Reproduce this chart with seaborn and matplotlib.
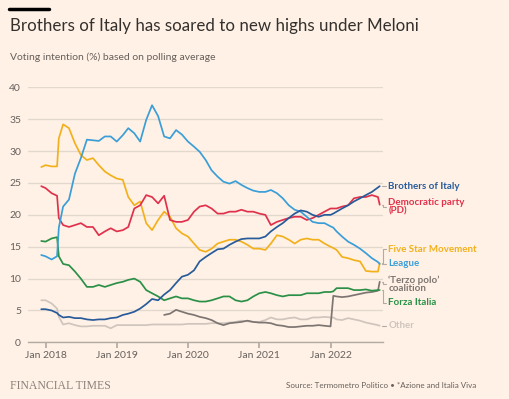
import pandas as pd
import matplotlib.pyplot as plt
import matplotlib.dates as mdates
import seaborn as sns

# Date grid: month starts plus a few extra points where polls jumped
dates = (["2017-12-10"]
         + ["2018-01-01", "2018-02-01", "2018-03-01", "2018-03-10"]
         + [f"2018-{m:02d}-01" for m in range(4, 13)]
         + [f"2019-{m:02d}-01" for m in range(1, 13)]
         + [f"2020-{m:02d}-01" for m in range(1, 13)]
         + [f"2021-{m:02d}-01" for m in range(1, 13)]
         + ["2022-01-01", "2022-01-15"]
         + [f"2022-{m:02d}-01" for m in range(2, 10)]
         + ["2022-09-10"])

nan = float("nan")

brothers = [5.2, 5.2, 5.0, 4.6, 4.3, 3.9, 4.0, 3.8, 3.8, 3.6, 3.5, 3.6, 3.6, 3.8,
            3.9, 4.3, 4.5, 4.8, 5.3, 6.0, 6.8, 6.6, 7.5, 8.2, 9.3, 10.3,
            10.6, 11.3, 12.7, 13.4, 14.0, 14.6, 14.7, 15.3, 15.8, 16.2, 16.3, 16.3,
            16.3, 16.6, 17.4, 18.1, 18.7, 19.5, 20.2, 20.7, 20.5, 20.0, 19.7, 20.0,
            20.0, 20.2, 20.5, 21.0, 21.5, 22.1, 22.6, 23.1, 23.6, 24.3, 24.5]

pd_party = [24.5, 24.2, 23.4, 23.0, 19.5, 18.4, 18.1, 18.4, 18.7, 18.1, 18.1, 16.8, 17.4, 17.9,
            17.4, 17.6, 18.1, 21.0, 21.5, 23.1, 22.8, 21.8, 23.0, 19.2, 18.9, 18.9,
            19.2, 20.5, 21.3, 21.5, 21.0, 20.2, 20.2, 20.5, 20.5, 20.8, 20.5, 20.5,
            20.2, 20.0, 18.4, 18.9, 19.2, 19.5, 19.7, 19.7, 19.2, 19.5, 20.0, 20.5,
            21.0, 21.0, 21.0, 21.3, 21.5, 22.6, 22.8, 22.8, 23.1, 22.8, 21.6]

five_star = [27.5, 27.8, 27.6, 27.6, 32.0, 34.2, 33.6, 31.2, 29.4, 28.6, 28.9, 27.8, 26.8, 26.2,
             25.7, 25.5, 22.8, 21.5, 22.1, 18.7, 17.6, 19.2, 20.5, 19.7, 17.9, 17.1,
             16.6, 15.5, 14.5, 14.2, 14.7, 15.5, 15.8, 16.1, 16.1, 15.8, 15.3, 14.7,
             14.7, 14.5, 15.5, 16.8, 16.6, 16.1, 15.5, 16.1, 16.3, 16.1, 16.1, 15.5,
             15.0, 14.8, 14.5, 13.4, 13.2, 12.9, 12.7, 11.2, 11.1, 11.1, 12.4]

league = [13.7, 13.5, 13.0, 13.5, 18.0, 21.3, 22.4, 26.5, 28.9, 31.8, 31.7, 31.6, 32.3, 32.3,
          31.5, 32.5, 33.6, 32.8, 31.5, 34.9, 37.2, 35.5, 32.3, 32.0, 33.3, 32.6,
          31.5, 30.7, 29.9, 28.6, 27.0, 26.0, 25.2, 24.9, 25.3, 24.7, 24.2, 23.8,
          23.6, 23.6, 23.9, 23.4, 22.6, 21.5, 20.8, 20.5, 19.7, 18.9, 18.7, 18.7,
          18.2, 18.0, 17.4, 16.6, 15.8, 15.3, 14.7, 14.0, 13.2, 12.6, 12.3]

terzo_polo = [nan] * 22 + [
          4.3, 4.5, 5.1, 4.8,
          4.5, 4.3, 4.0, 3.8, 3.5, 3.0, 2.7, 3.0, 3.1, 3.2, 3.4, 3.2,
          3.1, 3.1, 3.0, 2.7, 2.6, 2.4, 2.4, 2.5, 2.6, 2.6, 2.7, 2.6,
          2.5, 7.3, 7.2, 7.1, 7.2, 7.4, 7.6, 7.8, 7.9, 8.1, 9.5]

forza_italia = [15.9, 15.8, 16.3, 16.5, 13.5, 12.3, 12.1, 11.1, 10.0, 8.7, 8.7, 9.0, 8.7, 9.0,
                9.3, 9.5, 9.8, 10.0, 9.5, 8.2, 7.7, 7.2, 6.6, 6.9, 7.2, 6.9,
                6.9, 6.6, 6.4, 6.4, 6.6, 6.9, 7.2, 7.2, 6.6, 6.4, 6.6, 7.2,
                7.7, 7.9, 7.7, 7.4, 7.2, 7.4, 7.4, 7.4, 7.7, 7.7, 7.7, 7.9,
                7.9, 8.0, 8.5, 8.5, 8.5, 8.2, 8.2, 8.3, 8.1, 8.2, 8.2]

other = [6.6, 6.6, 6.1, 5.3, 4.0, 2.8, 3.0, 2.7, 2.5, 2.5, 2.6, 2.6, 2.6, 2.2,
         2.7, 2.7, 2.7, 2.7, 2.7, 2.7, 2.8, 2.8, 2.8, 2.8, 2.8, 2.8,
         2.9, 2.9, 2.9, 2.9, 3.0, 3.0, 3.0, 3.1, 3.2, 3.4, 3.3, 3.2,
         3.2, 3.5, 3.9, 3.6, 3.6, 3.8, 3.9, 3.6, 3.6, 3.9, 3.9, 4.0,
         3.9, 3.9, 3.6, 3.5, 3.8, 3.6, 3.4, 3.1, 2.9, 2.7, 2.6]

# party -> colour, drawing order bottom to top
colours = {
    "Other": "#cfc5bd",
    "Terzo polo": "#7d7572",
    "Forza Italia": "#2a9048",
    "Five Star Movement": "#f2b11c",
    "Democratic party": "#e0314c",
    "League": "#3a9ed8",
    "Brothers of Italy": "#275b9a",
}

df = pd.DataFrame({
    "date": pd.to_datetime(dates),
    "Other": other,
    "Terzo polo": terzo_polo,
    "Forza Italia": forza_italia,
    "Five Star Movement": five_star,
    "Democratic party": pd_party,
    "League": league,
    "Brothers of Italy": brothers,
})
long = df.melt(id_vars="date", var_name="party", value_name="share").dropna()

bg = "#fff1e5"
grey = "#66605c"
sns.set_theme(style="white")
plt.rcParams["font.family"] = ["Lato", "DejaVu Sans"]

fig = plt.figure(figsize=(5.09, 3.99), dpi=100, facecolor=bg)
ax = fig.add_axes([0.055, 0.142, 0.6975, 0.639], facecolor=bg)

sns.lineplot(data=long, x="date", y="share", hue="party", hue_order=list(colours),
             palette=colours, estimator=None, linewidth=1.25, legend=False, ax=ax)

ax.set_xlim(pd.Timestamp("2017-10-03"), pd.Timestamp("2022-09-27"))
ax.set_ylim(0, 40)
ax.set_yticks(range(0, 41, 5))
ax.grid(axis="y", color="#e3d8ce", linewidth=1)
ax.set_axisbelow(True)
for s in ["top", "right", "left"]:
    ax.spines[s].set_visible(False)
ax.spines["bottom"].set_color("#b3aaa2")
ax.spines["bottom"].set_linewidth(1)
ax.xaxis.set_major_locator(mdates.YearLocator())
ax.xaxis.set_major_formatter(mdates.DateFormatter("Jan %Y"))
ax.tick_params(axis="x", bottom=True, length=4, color="#b3aaa2", labelsize=7.5,
               labelcolor=grey, pad=2)
ax.tick_params(axis="y", left=False, length=0, labelsize=7.5, labelcolor=grey, pad=5)
ax.set_xlabel("")
ax.set_ylabel("")

# right-hand labels with small leader lines
end = pd.Timestamp("2022-09-10")
x0 = mdates.date2num(end) + 10
x1 = x0 + 20
xt = x1 + 14
labels = [
    ("Brothers of Italy", 24.5, 24.5, colours["Brothers of Italy"]),
    ("Democratic party\n(PD)", 21.6, 21.3, colours["Democratic party"]),
    ("Five Star Movement", 12.4, 14.6, colours["Five Star Movement"]),
    ("League", 12.3, 12.3, colours["League"]),
    ("‘Terzo polo’\ncoalition", 9.5, 9.1, colours["Terzo polo"]),
    ("Forza Italia", 8.2, 6.2, colours["Forza Italia"]),
    ("Other", 2.6, 2.6, "#cfc5bd"),
]
for text, y_end, y_lab, c in labels:
    ax.plot([x0, x0 + 6, x0 + 6, x1], [y_end, y_end, y_lab, y_lab], color="#b3aaa2",
            linewidth=0.8, clip_on=False)
    ax.text(xt, y_lab, text, color=c, fontsize=7, fontweight="bold", va="center",
            ha="left", linespacing=0.95, clip_on=False)

# header and footer
fig.add_artist(plt.Line2D([9 / 509, 49 / 509], [1 - 8.5 / 399] * 2, color="black",
                          linewidth=2.5))
fig.text(10 / 509, 1 - 26 / 399, "Brothers of Italy has soared to new highs under Meloni",
         fontsize=12.2, color="#33302e", va="center", ha="left")
fig.text(10 / 509, 1 - 57 / 399, "Voting intention (%) based on polling average",
         fontsize=7.5, color=grey, va="center", ha="left")
fig.text(10 / 509, 1 - 386 / 399, "FINANCIAL TIMES", family="Liberation Serif",
         fontsize=8.5, color="#8a817b", va="center", ha="left")
fig.text(476 / 509, 1 - 386 / 399, "Source: Termometro Politico • *Azione and Italia Viva",
         fontsize=5.8, color=grey, va="center", ha="right")

fig.savefig("out.png", dpi=100, facecolor=bg)
